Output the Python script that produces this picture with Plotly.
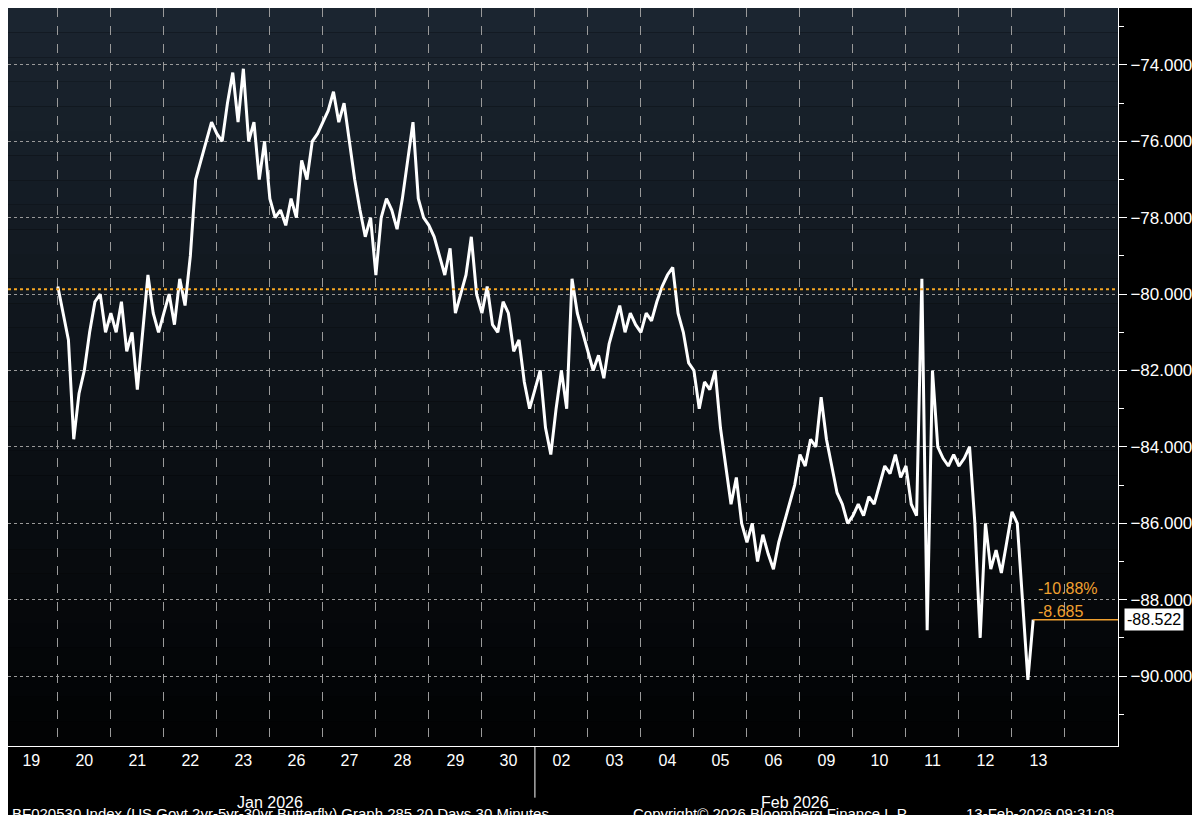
import plotly.graph_objects as go

days = ["20","21","22","23","26","27","28","29","30","02","03","04","05","06","09","10","11","12","13"]
day_vals = [
 [-79.8,-80.5,-81.2,-83.8,-82.6,-82.0,-81.0,-80.2,-80.0,-81.0],
 [-80.5,-81.0,-80.2,-81.5,-81.0,-82.5,-81.0,-79.5,-80.5,-81.0],
 [-80.5,-80.0,-80.8,-79.6,-80.3,-79.0,-77.0,-76.5,-76.0,-75.5],
 [-75.8,-76.0,-75.0,-74.2,-75.5,-74.1,-76.0,-75.5,-77.0,-76.0],
 [-77.5,-78.0,-77.8,-78.2,-77.5,-78.0,-76.5,-77.0,-76.0,-75.8],
 [-75.5,-75.2,-74.7,-75.5,-75.0,-76.0,-77.0,-77.8,-78.5,-78.0],
 [-79.5,-78.0,-77.5,-77.8,-78.3,-77.5,-76.5,-75.5,-77.5,-78.0],
 [-78.2,-78.5,-79.0,-79.5,-78.8,-80.5,-80.0,-79.5,-78.5,-80.0],
 [-80.5,-79.8,-80.8,-81.0,-80.2,-80.5,-81.5,-81.2,-82.3,-83.0],
 [-82.5,-82.0,-83.5,-84.2,-83.0,-82.0,-83.0,-79.6,-80.5,-81.0],
 [-81.5,-82.0,-81.6,-82.2,-81.3,-80.8,-80.3,-81.0,-80.5,-80.8],
 [-81.0,-80.5,-80.7,-80.2,-79.8,-79.5,-79.3,-80.5,-81.0,-81.8],
 [-82.0,-83.0,-82.3,-82.5,-82.0,-83.5,-84.5,-85.5,-84.8,-86.0],
 [-86.5,-86.0,-87.0,-86.3,-86.8,-87.2,-86.5,-86.0,-85.5,-85.0],
 [-84.2,-84.5,-83.8,-84.0,-82.7,-83.8,-84.5,-85.2,-85.5,-86.0],
 [-85.8,-85.5,-85.8,-85.3,-85.5,-85.0,-84.5,-84.7,-84.2,-84.8],
 [-84.5,-85.5,-85.8,-79.6,-88.8,-82.0,-84.0,-84.3,-84.5,-84.2],
 [-84.5,-84.3,-84.0,-86.0,-89.0,-86.0,-87.2,-86.7,-87.3,-86.5],
 [-85.7,-86.0,-88.0,-90.1,-88.522],
]
last_value = -88.522
ref_level = -79.87
ann_pct = "-10.88%"
ann_chg = "-8.685"
yticks = [-74,-76,-78,-80,-82,-84,-86,-88,-90]

X0, X1 = -0.94, 20.0
xs, ys = [], []
for k, vals in enumerate(day_vals):
    for j, v in enumerate(vals):
        xs.append(k + j / 10)
        ys.append(v)

fig = go.Figure()
nb = 30
for i in range(nb):
    t = i / (nb - 1)
    r = int(27 * t + 2 * (1 - t)); g = int(37 * t + 3 * (1 - t)); b = int(48 * t + 4 * (1 - t))
    fig.add_shape(type="rect", xref="paper", yref="paper", x0=0, x1=1,
                  y0=i / nb, y1=(i + 1) / nb, fillcolor=f"rgb({r},{g},{b})",
                  line_width=0, layer="below")

fig.add_trace(go.Scatter(x=xs, y=ys, mode="lines", line=dict(color="white", width=3),
                         hoverinfo="skip", showlegend=False))
fig.add_hline(y=ref_level, line=dict(color="#f5a623", width=2, dash="dot"))
fig.add_shape(type="line", x0=xs[-1], x1=X1, y0=last_value, y1=last_value,
              line=dict(color="#f0a030", width=1.5))

fig.add_annotation(x=xs[-1] + 0.05, y=-87.7, text=ann_pct, showarrow=False, xanchor="left",
                   font=dict(color="#f0a030", size=16, family="Liberation Sans"))
fig.add_annotation(x=xs[-1] + 0.05, y=-88.3, text=ann_chg, showarrow=False, xanchor="left",
                   font=dict(color="#f0a030", size=16, family="Liberation Sans"))
fig.add_annotation(xref="paper", x=1.005, y=last_value, text=f"{last_value:.3f}", showarrow=False,
                   xanchor="left", bgcolor="white", font=dict(color="black", size=16, family="Liberation Sans"),
                   borderpad=2)

fig.add_annotation(x=4.0, yref="paper", y=-0.062, yanchor="top", text="Jan 2026", showarrow=False,
                   font=dict(color="white", size=16, family="Liberation Sans"))
fig.add_annotation(x=13.9, yref="paper", y=-0.062, yanchor="top", text="Feb 2026", showarrow=False,
                   font=dict(color="white", size=16, family="Liberation Sans"))
fig.add_shape(type="line", x0=9, x1=9, yref="paper", y0=0, y1=-0.07, line=dict(color="white", width=1))

for xp, txt, anc in [(0.002, "BF020530 Index (US Govt 2yr-5yr-30yr Butterfly) Graph 285 20 Days 30 Minutes", "left"),
                     (0.561, "Copyright© 2026 Bloomberg Finance L.P.", "left"),
                     (0.998, "13-Feb-2026 09:31:08", "right")]:
    fig.add_annotation(xref="paper", yref="paper", x=xp, y=-0.092, text=txt, showarrow=False,
                       xanchor=anc, yanchor="middle", font=dict(color="white", size=15, family="Liberation Sans"))

fig.update_layout(
    width=1200, height=815, paper_bgcolor="black", plot_bgcolor="black",
    margin=dict(l=0, r=90, t=0, b=77),
    xaxis=dict(range=[X0, X1], tickvals=[-0.5] + [k + 0.5 for k in range(len(days))],
               ticktext=["19"] + days, showgrid=False, zeroline=False, ticks="",
               tickfont=dict(color="white", size=16, family="Liberation Sans"),
               minor=dict(tickvals=list(range(0, 20)), showgrid=True, gridcolor="#9a9a9a",
                          griddash="dash", gridwidth=1, ticks=""),
               showline=True, linecolor="white"),
    yaxis=dict(range=[-91.83, -72.51], side="right", tickvals=yticks, tickformat=".3f",
               showgrid=True, gridcolor="#9a9a9a", griddash="dot", gridwidth=1, zeroline=False,
               ticks="outside", ticklen=8, tickcolor="white", showline=True, linecolor="white",
               tickfont=dict(color="white", size=17, family="Liberation Sans"),
               minor=dict(dtick=2, tick0=-73, ticks="outside", ticklen=5, tickcolor="white")),
)
fig.write_html("out.html")
